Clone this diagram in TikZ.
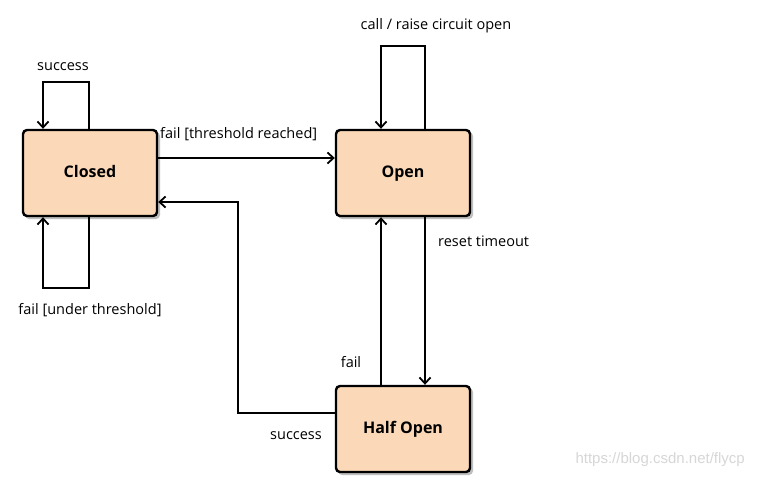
\documentclass[tikz,border=0pt]{standalone}
\usepackage{fontspec}
\setmainfont{Open Sans}
\newfontfamily\wmfont{Liberation Sans}
\usetikzlibrary{arrows.meta}
\definecolor{peach}{RGB}{251,217,184}
\definecolor{wm}{RGB}{215,215,215}
\tikzset{
  state/.style={draw=black, line width=2.4pt, fill=peach, rounded corners=4pt, minimum width=134pt, minimum height=86pt, font=\fontsize{16}{18}\selectfont\bfseries, inner sep=0pt, text height=11.5pt, text depth=3.5pt},
  edge/.style={line width=1.8pt, -{Straight Barb[length=6pt,width=11pt,line width=1.8pt]}},
  lbl/.style={font=\fontsize{14.5}{16}\selectfont, inner sep=0pt},
  shadow/.style={fill=black!25, rounded corners=4pt}
}
\begin{document}
\begin{tikzpicture}[x=1pt,y=-1pt]
\useasboundingbox[fill=white] (0,0) rectangle (760,479);
% shadows
\fill[shadow] (25,132) rectangle (160,219);
\fill[shadow] (338,132) rectangle (473,219);
\fill[shadow] (338,388) rectangle (473,475);
% states
\node[state] (closed) at (90,173) {Closed};
\node[state] (open) at (403,173) {Open};
\node[state] (half) at (403,429) {Half Open};
% coordinates
\coordinate (c1) at (89,82);
\coordinate (c2) at (43,82);
\coordinate (c3) at (89,288);
\coordinate (c4) at (43,288);
\coordinate (o1) at (425,46);
\coordinate (o2) at (381,46);
\coordinate (h1) at (238,413);
\coordinate (h2) at (238,202);
% Closed self loops
\draw[edge] (closed.north -| c1) -- (c1) -- (c2) -- (closed.north -| c2);
\draw[edge] (closed.south -| c3) -- (c3) -- (c4) -- (closed.south -| c4);
% Open self loop
\draw[edge] (open.north -| o1) -- (o1) -- (o2) -- (open.north -| o2);
% Closed -> Open
\draw[edge] (closed.east |- 0,158) -- (open.west |- 0,158);
% Half Open -> Closed
\draw[edge] (half.west |- h1) -- (h1) -- (h2) -- (closed.east |- h2);
% Open -> Half Open
\draw[edge] (open.south -| 425,0) -- (half.north -| 425,0);
% Half Open -> Open
\draw[edge] (half.north -| 381,0) -- (open.south -| 381,0);
% labels
\node[lbl] (l1) at (63,67) {success};
\node[lbl] (l2) at (90,310) {fail [under threshold]};
\node[lbl, anchor=west] (l3) at (160,134) {fail [threshold reached]};
\node[lbl] (l4) at (436,26) {call / raise circuit open};
\node[lbl, anchor=west] (l5) at (438,241) {reset timeout};
\node[lbl] (l6) at (351,362) {fail};
\node[lbl] (l7) at (296,436) {success};
\node[font=\fontsize{15}{17}\selectfont\wmfont, text=wm, anchor=east, inner sep=0pt] (wmk) at (745,460) {https://blog.csdn.net/flycp};
\end{tikzpicture}
\end{document}
